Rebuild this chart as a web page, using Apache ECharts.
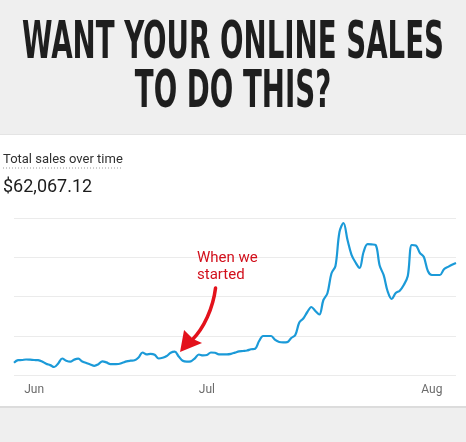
<!DOCTYPE html>
<html>
<head>
<meta charset="utf-8">
<script src="https://cdn.jsdelivr.net/npm/echarts@6/dist/echarts.min.js"></script>
<style>
  html, body { margin: 0; padding: 0; background: #efefef; }
  #chart { width: 466px; height: 442px; }
</style>
</head>
<body>
<div id="chart"></div>
<script>
// daily-ish sales readings, Jun -> early Aug
const sales = [
  313, 377, 382, 395, 390, 382, 377, 344, 288, 252,
  204, 293, 420, 364, 339, 392, 415, 344, 306, 268,
  234, 275, 349, 321, 275, 278, 280, 311, 347, 364,
  375, 446, 573, 527, 540, 515, 420, 438, 484, 568,
  594, 471, 362, 339, 347, 425, 522, 499, 510, 573,
  566, 527, 527, 527, 540, 571, 601, 611, 624, 655,
  668, 866, 994, 994, 994, 892, 841, 831, 836, 943,
  1019, 1338, 1440, 1605, 1733, 1631, 1541, 1911, 2082, 2586,
  2777, 3643, 3873, 3440, 3062, 2866, 2726, 3134, 3333, 3327,
  3312, 2790, 2543, 2127, 1936, 2089, 2148, 2293, 2522, 3312,
  3299, 3113, 3006, 2650, 2548, 2548, 2548, 2693, 2754, 2810,
  2854
];
const categories = sales.map((_, i) => String(i));
const tickLabels = ['Jun', 'Jul', 'Aug'];
const tickIndex = [5, 48, 104];
const startIdx = 41; // "When we started"

const titleLines = ['WANT YOUR ONLINE SALES', 'TO DO THIS?'];
const metricTitle = 'Total sales over time';
const metricValue = '$62,067.12';

const chart = echarts.init(document.getElementById('chart'));

// squeeze a bold font down to the condensed headline width
const titleFont = 'bold 52px "DejaVu Sans Condensed", "DejaVu Sans", sans-serif';
const ctx = document.createElement('canvas').getContext('2d');
ctx.font = titleFont;
const titleScale = 422 / ctx.measureText(titleLines[0]).width;

const titleText = (txt, y) => ({
  type: 'text',
  x: 233, y: y,
  scaleX: titleScale,
  style: {
    text: txt,
    font: titleFont,
    fill: '#1e1e1e',
    textAlign: 'center',
    textVerticalAlign: 'middle'
  },
  z: 10
});

const option = {
  animation: false,
  backgroundColor: '#efefef',
  grid: { left: 14, right: 10, top: 218, bottom: 67 },
  xAxis: {
    type: 'category',
    data: categories,
    boundaryGap: false,
    axisLine: { show: false },
    axisTick: { show: false },
    axisLabel: {
      interval: (i) => tickIndex.includes(i),
      formatter: (v, i) => tickLabels[tickIndex.indexOf(i)] || '',
      color: '#6b6b6b',
      fontSize: 12,
      fontFamily: 'Roboto',
      margin: 9
    }
  },
  yAxis: {
    type: 'value',
    min: 0,
    max: 4000,
    interval: 1000,
    axisLine: { show: false },
    axisTick: { show: false },
    axisLabel: { show: false },
    splitLine: { lineStyle: { color: '#ebebeb', width: 1 } }
  },
  series: [{
    type: 'line',
    data: sales,
    smooth: 0.35,
    showSymbol: false,
    lineStyle: { color: '#1b9ad8', width: 2.2 },
    z: 5
  }],
  graphic: [
    { type: 'rect', shape: { x: 0, y: 135, width: 466, height: 271 }, style: { fill: '#ffffff' }, z: -10 },
    { type: 'rect', shape: { x: 0, y: 134, width: 466, height: 1 }, style: { fill: '#e4e4e4' }, z: -10 },
    { type: 'rect', shape: { x: 0, y: 406, width: 466, height: 2 }, style: { fill: '#dcdcdc' }, z: -10 },
    titleText(titleLines[0], 44),
    titleText(titleLines[1], 93.5),
    {
      type: 'text', x: 3, y: 160,
      style: { text: metricTitle, font: '13px Roboto', fill: '#303030', textVerticalAlign: 'middle' }
    },
    {
      type: 'line', shape: { x1: 3, y1: 168, x2: 122, y2: 168 },
      style: { stroke: '#9a9a9a', lineWidth: 1, lineDash: [1, 2] }
    },
    {
      type: 'text', x: 3, y: 187.5,
      style: { text: metricValue, font: '18px Roboto', fill: '#1c1c1c', textVerticalAlign: 'middle' }
    }
  ]
};

chart.setOption(option);

// annotation hangs off the "started" data point
const p = chart.convertToPixel({ seriesIndex: 0 }, [startIdx, sales[startIdx]]);
const tx = p[0] + 1.3, ty = p[1] - 4.5;
const red = '#e3121c';
chart.setOption({
  graphic: option.graphic.concat([
    {
      type: 'text', x: tx + 17, y: ty - 85,
      style: {
        text: 'When we\nstarted',
        font: '15px Roboto',
        fill: '#d2101c',
        lineHeight: 17,
        textVerticalAlign: 'middle'
      },
      z: 20
    },
    {
      type: 'bezierCurve',
      shape: { x1: tx + 35.5, y1: ty - 64, cpx1: tx + 33, cpy1: ty - 44, cpx2: tx + 24, cpy2: ty - 24, x2: tx + 12, y2: ty - 12 },
      style: { stroke: red, lineWidth: 3.5, fill: null, lineCap: 'round' },
      z: 20
    },
    {
      type: 'polygon',
      shape: { points: [[tx, ty], [tx + 4, ty - 22], [tx + 13, ty - 13], [tx + 22, ty - 9]] },
      style: { fill: red },
      z: 20
    }
  ])
});
</script>
</body>
</html>
